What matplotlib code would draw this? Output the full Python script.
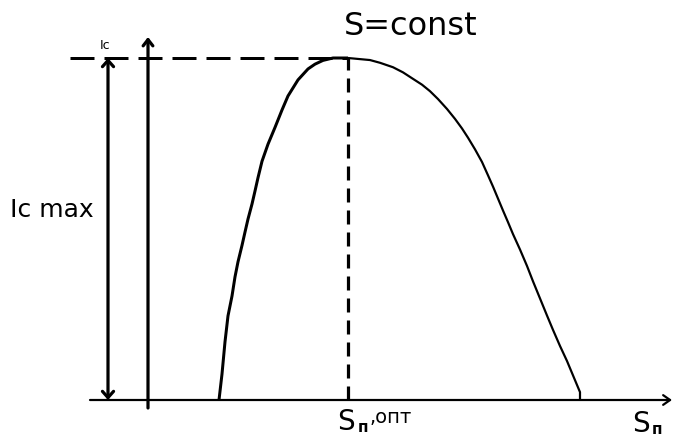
import matplotlib
matplotlib.use("Agg")
import matplotlib.pyplot as plt
import numpy as np

plt.rcParams['font.family'] = ['DejaVu Sans']
plt.rcParams['lines.scale_dashes'] = False

# ---- data (normalized: S_n / S_n,opt  and  I_c / I_c,max) ----
s_opt = 1.0
i_max = 1.0
curve_s = [0.355, 0.37, 0.385, 0.40, 0.42, 0.435, 0.45, 0.47, 0.485, 0.50,
           0.52, 0.535, 0.55, 0.57, 0.60, 0.635, 0.67, 0.70, 0.75, 0.80,
           0.835, 0.875, 0.925, 1.0,
           1.11, 1.16, 1.225, 1.275, 1.325, 1.37, 1.41, 1.45, 1.495, 1.535,
           1.57, 1.60, 1.635, 1.67, 1.70, 1.725, 1.75, 1.775, 1.80, 1.825,
           1.86, 1.895, 1.925, 1.96, 1.995, 2.025, 2.06, 2.095, 2.125, 2.16, 2.16]
curve_i = [0.0, 0.076, 0.170, 0.246, 0.304, 0.360, 0.404, 0.452, 0.491, 0.529,
           0.573, 0.611, 0.650, 0.698, 0.748, 0.797, 0.848, 0.889, 0.936, 0.968,
           0.982, 0.993, 1.0, 1.0,
           0.994, 0.986, 0.973, 0.958, 0.939, 0.922, 0.903, 0.880, 0.851, 0.822,
           0.794, 0.767, 0.733, 0.696, 0.657, 0.624, 0.589, 0.554, 0.520, 0.485,
           0.440, 0.392, 0.347, 0.297, 0.247, 0.205, 0.158, 0.114, 0.072, 0.023, 0.0]

title_text = "S=const"
ylabel_top = "Ic"
ylabel_max = "Ic max"
xlabel_main = "S"
xlabel_sub = "п"
xlabel_opt = ",опт"

# ---- layout helpers (pixel -> data) ----
W, H = 673, 439
X0, Y0 = 148, 401          # origin in pixels
SX, SY = 200.0, 342.0      # pixels per unit

def px(x):
    return (x - X0) / SX

def py(y):
    return (Y0 - y) / SY

def lw(pxw):
    return pxw * 72.0 / 100.0

fig = plt.figure(figsize=(W / 100, H / 100), dpi=100)
ax = fig.add_axes([0, 0, 1, 1])
ax.set_xlim(px(0), px(W))
ax.set_ylim(py(H), py(0))
ax.axis('off')

k = curve_s.index(s_opt)
# curve: left part thicker, right part thinner
ax.plot(curve_s[:k + 1], curve_i[:k + 1], color='black', lw=lw(3.0),
        solid_capstyle='butt', solid_joinstyle='round')
ax.plot(curve_s[k:], curve_i[k:], color='black', lw=lw(2.2),
        solid_capstyle='butt', solid_joinstyle='round')

# dashed guide lines
hl, = ax.plot([px(70), s_opt], [i_max, i_max], color='black', lw=lw(3.0))
hl.set_linestyle((0, (lw(24), lw(10))))
hl.set_dash_capstyle('butt')
vl, = ax.plot([s_opt, s_opt], [0, i_max], color='black', lw=lw(3.2))
vl.set_linestyle((0, (lw(14), lw(8))))
vl.set_dash_capstyle('butt')

# axes arrows
ax.annotate('', xy=(px(672), 0), xytext=(px(90), 0),
            arrowprops=dict(arrowstyle='->,head_length=0.5,head_width=0.35',
                            lw=lw(2.2), color='black', shrinkA=0, shrinkB=0))
ax.annotate('', xy=(0, py(38)), xytext=(0, py(409)),
            arrowprops=dict(arrowstyle='->,head_length=0.45,head_width=0.35',
                            lw=lw(3.2), color='black', shrinkA=0, shrinkB=0))
# double arrow for I_c max
ax.annotate('', xy=(px(108), i_max), xytext=(px(108), 0),
            arrowprops=dict(arrowstyle='<->,head_length=0.45,head_width=0.4',
                            lw=lw(3.2), color='black', shrinkA=0, shrinkB=0))

# texts
ax.text(px(411), py(35), title_text, fontsize=23, ha='center', va='baseline')
ax.text(px(100), py(49), ylabel_top, fontsize=9, ha='left', va='baseline')
ax.text(px(10), py(217), ylabel_max, fontsize=18, ha='left', va='baseline')

ax.text(px(337), py(430), xlabel_main, fontsize=20, ha='left', va='baseline')
ax.text(px(358), py(432), xlabel_sub, fontsize=11, fontweight='bold',
        ha='left', va='baseline')
ax.text(px(370), py(423), xlabel_opt, fontsize=14, ha='left', va='baseline')

ax.text(px(632), py(432), xlabel_main, fontsize=20, ha='left', va='baseline')
ax.text(px(652), py(434), xlabel_sub, fontsize=11, fontweight='bold',
        ha='left', va='baseline')

fig.savefig('out.png', dpi=100)
